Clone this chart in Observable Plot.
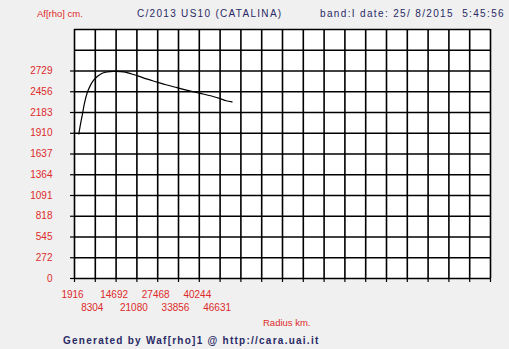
<!DOCTYPE html>
<html>
<head>
<meta charset="utf-8">
<script src="https://cdn.jsdelivr.net/npm/d3@7"></script>
<script src="https://cdn.jsdelivr.net/npm/@observablehq/plot@0.6"></script>
<style>
  html, body { margin: 0; padding: 0; background: #f0f0f0; }
  #chart { position: relative; width: 509px; height: 349px; overflow: hidden; }
</style>
</head>
<body>
<div id="chart"></div>
<script>
// ---- data ----
const radius = [3236, 3800, 4300, 5000, 5800, 6800, 7800, 9000, 10400, 12000, 14000, 16000, 17500, 19500, 21600, 24000, 27300, 30000, 33400, 37000, 40600, 44000, 46700, 48500, 50300];
const afrho  = [1900, 2040, 2150, 2310, 2440, 2540, 2610, 2660, 2700, 2718, 2724, 2722, 2715, 2690, 2662, 2625, 2583, 2548, 2510, 2470, 2435, 2400, 2365, 2338, 2322];

const xStep = 6388;
const xStart = 1916;
const xCols = 20;
const xTickLabels = ["1916", "8304", "14692", "21080", "27468", "33856", "40244", "46631"];

const yStep = 272.9;
const yRows = 12;
const yTickLabels = ["0", "272", "545", "818", "1091", "1364", "1637", "1910", "2183", "2456", "2729"];

const titleLeft = "Af[rho] cm.";
const titleMid = "C/2013 US10 (CATALINA)";
const titleRight = "band:I date: 25/ 8/2015  5:45:56";
const xLabel = "Radius km.";
const footer = "Generated by Waf[rho]1 @ http://cara.uai.it";

// ---- derived ----
const data = radius.map((r, i) => ({r, v: afrho[i]}));
const xGrid = d3.range(xCols + 1).map(i => xStart + i * xStep);
const yGrid = d3.range(yRows + 1).map(i => i * yStep);
const yTicks = yTickLabels.map((_, i) => i * yStep);
const xLab = xTickLabels.map((l, i) => ({x: xStart + i * xStep, label: l, row: i % 2}));

const red = "#dd2a2a";
const navy = "#2a2a66";

const plot = Plot.plot({
  width: 509,
  height: 349,
  marginLeft: 74,
  marginRight: 19,
  marginTop: 29,
  marginBottom: 71,
  style: {background: "#f0f0f0", fontFamily: "'Liberation Sans', Arial, sans-serif", fontSize: "10px"},
  x: {type: "linear", domain: [xStart, xStart + xCols * xStep]},
  y: {type: "linear", domain: [0, yRows * yStep]},
  marks: [
    Plot.frame({fill: "white", stroke: "none"}),
    Plot.ruleX(xGrid, {stroke: "black", strokeWidth: 1.6}),
    Plot.ruleY(yGrid, {stroke: "black", strokeWidth: 1.6}),
    Plot.axisX({ticks: xGrid, tickSize: 4, tickFormat: () => "", label: null, stroke: "black", strokeWidth: 1.2, strokeOpacity: 1}),
    Plot.axisY({ticks: yTicks, tickSize: 4, tickPadding: 18, tickFormat: (d, i) => yTickLabels[i], label: null, fill: red, stroke: "black", strokeWidth: 1.2, strokeOpacity: 1, fontSize: 10}),
    Plot.text(xLab.filter(d => d.row === 0), {x: "x", text: "label", frameAnchor: "bottom", dy: 19, fill: red, fontSize: 10, dx: -2}),
    Plot.text(xLab.filter(d => d.row === 1), {x: "x", text: "label", frameAnchor: "bottom", dy: 32, fill: red, fontSize: 10, dx: -3}),
    Plot.line(data, {x: "r", y: "v", curve: "catmull-rom", stroke: "black", strokeWidth: 1.2})
  ]
});

document.getElementById("chart").appendChild(plot);

const svg = d3.select(plot);
const addText = (x, y, t, opts) => {
  const el = svg.append("text")
    .attr("x", x).attr("y", y)
    .attr("font-family", "'Liberation Sans', Arial, sans-serif")
    .attr("font-size", opts.size || 10)
    .attr("fill", opts.fill)
    .attr("text-anchor", opts.anchor || "start")
    .attr("dominant-baseline", "middle")
    .style("white-space", "pre")
    .attr("xml:space", "preserve")
    .text(t);
  if (opts.ls) el.attr("letter-spacing", opts.ls);
  if (opts.weight) el.attr("font-weight", opts.weight);
};
addText(37, 14, titleLeft, {fill: red, size: 9.5});
addText(137, 14, titleMid, {fill: navy, ls: 1.3});
addText(320, 14, titleRight, {fill: navy, ls: 1.35});
addText(263, 323, xLabel, {fill: red, size: 9.5});
addText(63, 341, footer, {fill: navy, ls: 1.25, weight: "bold"});
</script>
</body>
</html>
